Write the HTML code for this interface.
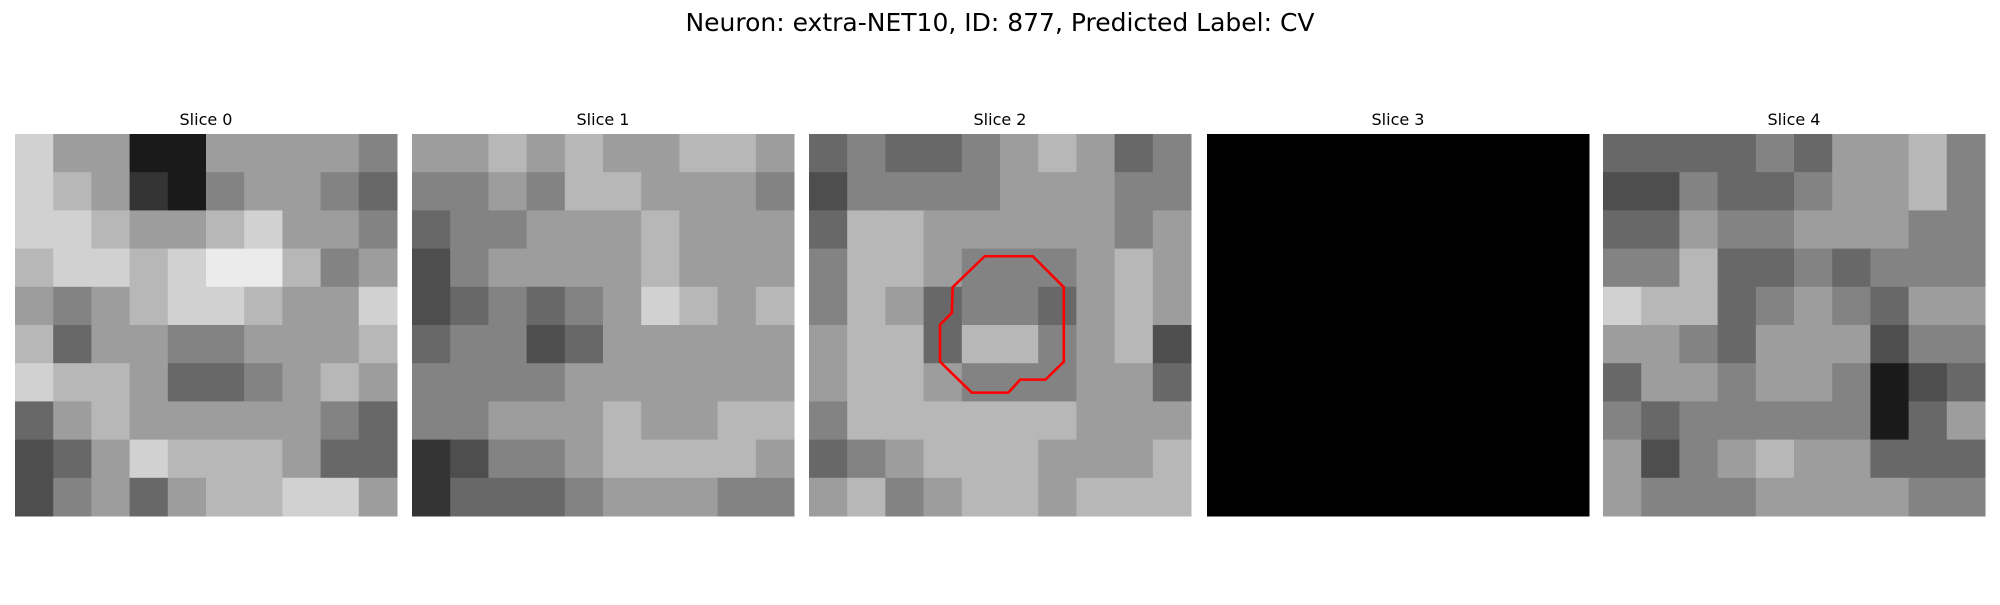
<!DOCTYPE html>
<html><head><meta charset="utf-8"><style>
body{margin:0;background:#fff;width:2000px;height:600px;overflow:hidden;font-family:"Liberation Sans","DejaVu Sans",sans-serif}
</style></head><body>
<svg id="fig" width="2000" height="600" xmlns="http://www.w3.org/2000/svg">
<text x="1000" y="31" text-anchor="middle" font-size="25" font-family="DejaVu Sans, Liberation Sans, sans-serif">Neuron: extra-NET10, ID: 877, Predicted Label: CV</text>
</svg>
<script>
const sliceTitles = ["Slice 0","Slice 1","Slice 2","Slice 3","Slice 4"];
const slice0 = [
[8,6,6,1,1,6,6,6,6,5],[8,7,6,2,1,5,6,6,5,4],[8,8,7,6,6,7,8,6,6,5],[7,8,8,7,8,9,9,7,5,6],[6,5,6,7,8,8,7,6,6,8],
[7,4,6,6,5,5,6,6,6,7],[8,7,7,6,4,4,5,6,7,6],[4,6,7,6,6,6,6,6,5,4],[3,4,6,8,7,7,7,6,4,4],[3,5,6,4,6,7,7,8,8,6]];
const slice1 = [
[6,6,7,6,7,6,6,7,7,6],[5,5,6,5,7,7,6,6,6,5],[4,5,5,6,6,6,7,6,6,6],[3,5,6,6,6,6,7,6,6,6],[3,4,5,4,5,6,8,7,6,7],
[4,5,5,3,4,6,6,6,6,6],[5,5,5,5,6,6,6,6,6,6],[5,5,6,6,6,7,6,6,7,7],[2,3,5,5,6,7,7,7,7,6],[2,4,4,4,5,6,6,6,5,5]];
const slice2 = [
[4,5,4,4,5,6,7,6,4,5],[3,5,5,5,5,6,6,6,5,5],[4,7,7,6,6,6,6,6,5,6],[5,7,7,6,5,5,5,6,7,6],[5,7,6,4,5,5,4,6,7,6],
[6,7,7,4,7,7,5,6,7,3],[6,7,7,6,5,5,5,6,6,4],[5,7,7,7,7,7,7,6,6,6],[4,5,6,7,7,7,6,6,6,7],[6,7,5,6,7,7,6,7,7,7]];
const slice3 = Array.from({length:10},()=>Array(10).fill(0));
const slice4 = [
[4,4,4,4,5,4,6,6,7,5],[3,3,5,4,4,5,6,6,7,5],[4,4,6,5,5,6,6,6,5,5],[5,5,7,4,4,5,4,5,5,5],[8,7,7,4,5,6,5,4,6,6],
[6,6,5,4,6,6,6,3,5,5],[4,6,6,5,6,6,5,1,3,4],[5,4,5,5,5,5,5,1,4,6],[6,3,5,6,7,6,6,4,4,4],[6,5,5,5,6,6,6,6,5,5]];
const slices = [slice0,slice1,slice2,slice3,slice4];
const contourX = [4.6,5.86,6.67,6.67,6.19,5.53,5.22,4.26,3.43,3.43,3.74,3.76];
const contourY = [3.2,3.2,4.01,5.96,6.43,6.43,6.77,6.77,5.96,4.99,4.68,4.01];

const svg=document.getElementById('fig');
const NS="http://www.w3.org/2000/svg";
const left=[15,412,809,1207,1603], top0=134, size=382;
function sx(i,v){return left[i]+v*size/10;}
function sy(v){return top0+v*size/10;}
slices.forEach((g,i)=>{
  const grp=document.createElementNS(NS,'g');
  
  
  g.forEach((row,r)=>row.forEach((v,c)=>{
    const rc=document.createElementNS(NS,'rect');
    rc.setAttribute('x',sx(i,c));rc.setAttribute('y',sy(r));
    rc.setAttribute('width',size/10+0.5);rc.setAttribute('height',size/10+0.5);
    const k=Math.round(v/9*235);
    rc.setAttribute('fill',`rgb(${k},${k},${k})`);
    grp.appendChild(rc);
  }));
  svg.appendChild(grp);
  const t=document.createElementNS(NS,'text');
  
  
  t.setAttribute('x',left[i]+size/2);t.setAttribute('y',125);
  t.setAttribute('text-anchor','middle');t.setAttribute('font-size','16');
  t.setAttribute('font-family','DejaVu Sans, Liberation Sans, sans-serif');
  t.textContent=sliceTitles[i];
  svg.appendChild(t);
});
const pl=document.createElementNS(NS,'polygon');


pl.setAttribute('points',contourX.map((x,j)=>sx(2,x)+','+sy(contourY[j])).join(' '));
pl.setAttribute('fill','none');pl.setAttribute('stroke','#ff0000');pl.setAttribute('stroke-width','2.6');
svg.appendChild(pl);
</script>
</body></html>
